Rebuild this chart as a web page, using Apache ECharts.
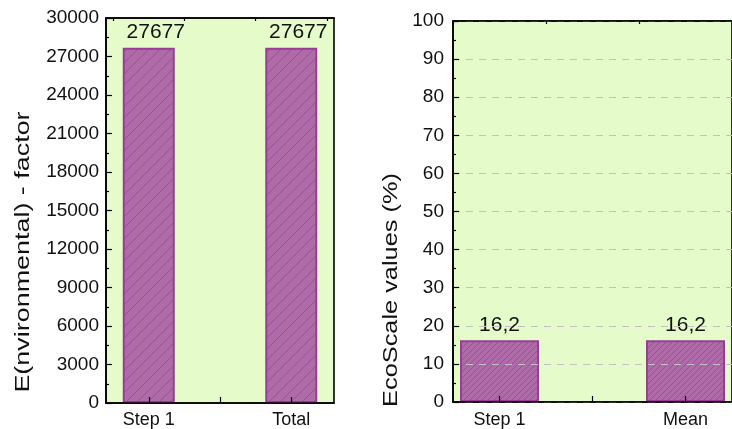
<!DOCTYPE html>
<html>
<head>
<meta charset="utf-8">
<script src="https://cdn.jsdelivr.net/npm/echarts@6/dist/echarts.min.js"></script>
<style>
  html, body { margin: 0; padding: 0; background: #ffffff; }
  #chart { width: 732px; height: 429px; }
</style>
</head>
<body>
<div id="chart"></div>
<script>
// E-factor panel
const eCategories = ['Step 1', 'Total'];
const eValues = [27677, 27677];
// EcoScale panel
const ecoCategories = ['Step 1', 'Mean'];
const ecoValues = [16.2, 16.2];

const FONT = "'Liberation Sans', Arial, sans-serif";
const PLOT_BG = '#e6fbca';
const BAR_FILL = '#ae6ba7';
const BAR_EDGE = '#9a3c96';

// Diagonal hatch tile used as the bar fill
function hatch(size) {
  const c = document.createElement('canvas');
  c.width = size; c.height = size;
  const g = c.getContext('2d');
  g.fillStyle = BAR_FILL;
  g.fillRect(0, 0, size, size);
  g.strokeStyle = 'rgba(128,40,122,0.42)';
  g.lineWidth = 1;
  g.beginPath();
  g.moveTo(-1, size + 1); g.lineTo(size + 1, -1);
  g.moveTo(-1, 1); g.lineTo(1, -1);
  g.moveTo(size - 1, size + 1); g.lineTo(size + 1, size - 1);
  g.stroke();
  return c;
}

const tickLabel = { fontFamily: FONT, fontSize: 19, color: '#111' };

function xAxes(gridIndex, min, max, names, margin) {
  const line = { lineStyle: { color: '#000', width: 1.6 } };
  return [
    {
      type: 'value', gridIndex, min, max, z: 5,
      axisLine: line,
      axisTick: { inside: true, length: 6, customValues: [1, 1.5, 2], lineStyle: { color: '#000', width: 1.2 } },
      axisLabel: Object.assign({ customValues: [1, 2], margin,
        formatter: v => names[Math.round(v) - 1] || '' }, tickLabel, { fontSize: 18 }),
      splitLine: { show: false }
    },
    {
      type: 'value', gridIndex, min, max, z: 5,
      axisLine: { show: false },
      axisTick: { inside: true, length: 3, customValues: [0.75, 1.25, 1.75, 2.25], lineStyle: { color: '#000', width: 1.2 } },
      axisLabel: { show: false },
      splitLine: { show: false }
    },
    {
      // top frame line, kept above the dashed grid lines
      type: 'value', gridIndex, min, max, z: 6, position: 'top',
      axisLine: line,
      axisTick: { show: false },
      axisLabel: { show: false },
      splitLine: { show: false }
    }
  ];
}

function yAxis(gridIndex, max, interval, grid, margin) {
  return {
    type: 'value', gridIndex, min: 0, max, interval, z: 5,
    axisLine: { show: true, lineStyle: { color: '#000', width: 1.6 } },
    axisTick: { show: true, inside: true, length: 6, lineStyle: { color: '#000', width: 1.2 } },
    minorTick: { show: true, splitNumber: 2, length: 3, lineStyle: { color: '#000', width: 1.2 } },
    axisLabel: Object.assign({ margin, formatter: v => String(v) }, tickLabel),
    splitLine: grid
      ? { show: true, lineStyle: { color: '#c2c2c2', width: 1.2, type: [7, 6] } }
      : { show: false }
  };
}

const valueLabel = {
  show: true, position: 'top', distance: 5,
  fontFamily: FONT, fontSize: 21, color: '#111'
};

const chart = echarts.init(document.getElementById('chart'), null, { renderer: 'canvas' });
chart.setOption({
  animation: false,
  backgroundColor: '#ffffff',
  grid: [
    { left: 106, top: 18, width: 228, height: 390, show: true,
      backgroundColor: PLOT_BG, borderColor: '#000', borderWidth: 1.6 },
    { left: 453, top: 21, width: 291, height: 381.5, show: true,
      backgroundColor: PLOT_BG, borderColor: '#000', borderWidth: 1.6 }
  ],
  xAxis: [
    ...xAxes(0, 0.7, 2.3, eCategories, 8),
    ...xAxes(1, 0.75, 2.25, ecoCategories, 9)
  ],
  yAxis: [
    yAxis(0, 30000, 3000, false, 7),
    yAxis(1, 100, 10, true, 9)
  ],
  series: [
    {
      type: 'bar', xAxisIndex: 0, yAxisIndex: 0, barWidth: 52,
      data: eValues.map((v, i) => [i + 1, v]),
      itemStyle: { color: { image: hatch(11), repeat: 'repeat' }, borderColor: BAR_EDGE, borderWidth: 2 },
      label: Object.assign({ formatter: p => String(p.value[1]), offset: [7, 0] }, valueLabel)
    },
    {
      type: 'bar', xAxisIndex: 3, yAxisIndex: 1, barWidth: 79,
      data: ecoValues.map((v, i) => [i + 1, v]),
      itemStyle: { color: { image: hatch(6), repeat: 'repeat' }, borderColor: BAR_EDGE, borderWidth: 2 },
      label: Object.assign({ formatter: p => String(p.value[1]).replace('.', ',') }, valueLabel)
    }
  ],
  graphic: [
    { type: 'text', x: 24, y: 252, rotation: Math.PI / 2, scaleX: 1.38,
      style: { text: 'E(nvironmental) - factor', font: '19.5px ' + FONT, fill: '#111',
               align: 'center', verticalAlign: 'middle' } },
    { type: 'text', x: 392, y: 290, rotation: Math.PI / 2, scaleX: 1.3,
      style: { text: 'EcoScale values (%)', font: '19.5px ' + FONT, fill: '#111',
               align: 'center', verticalAlign: 'middle' } }
  ]
});
</script>
</body>
</html>
